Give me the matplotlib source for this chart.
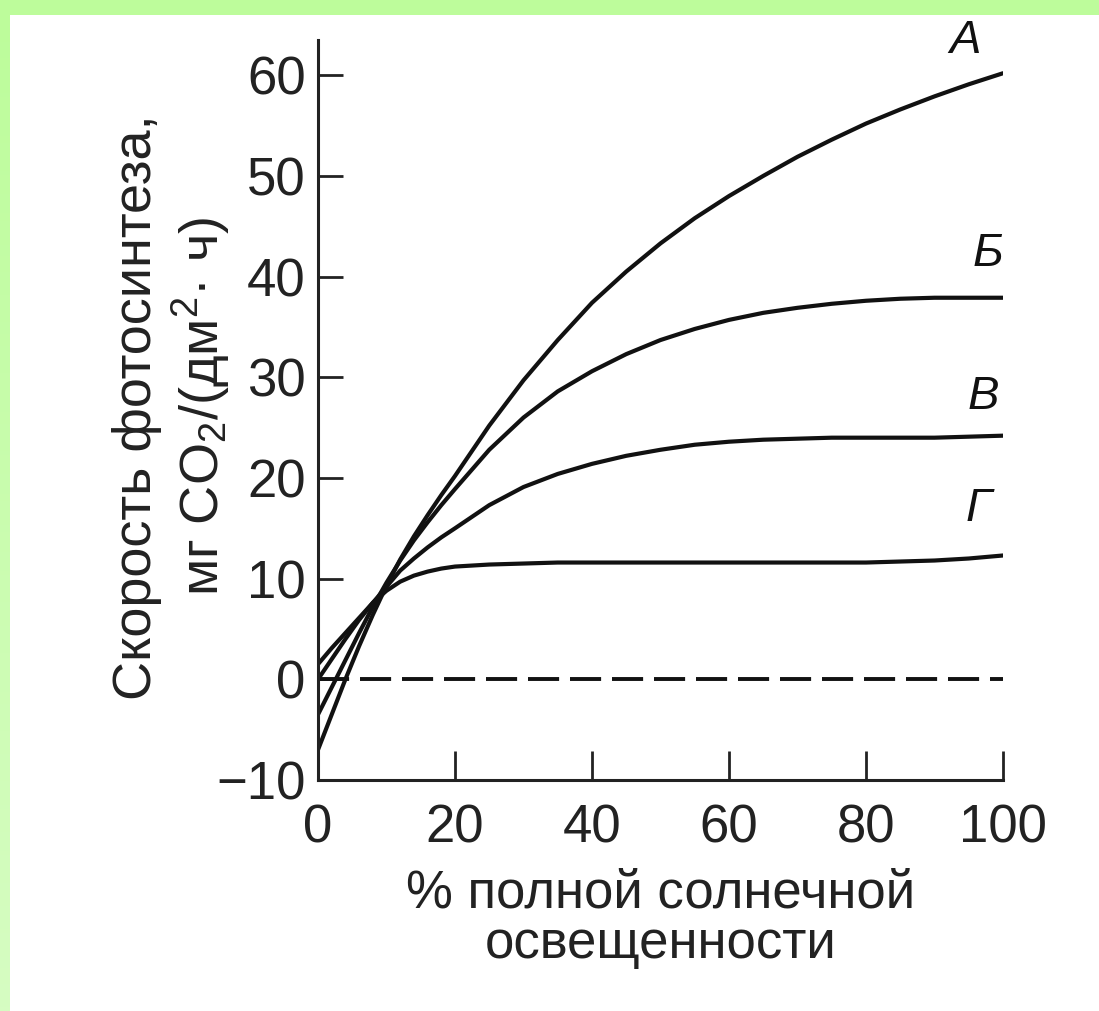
import numpy as np
import matplotlib
matplotlib.use("Agg")
import matplotlib.pyplot as plt
from matplotlib.patches import Rectangle

plt.rcParams['font.family'] = ['Liberation Sans', 'DejaVu Sans']
plt.rcParams['mathtext.fontset'] = 'custom'
plt.rcParams['mathtext.rm'] = 'Liberation Sans'
plt.rcParams['mathtext.it'] = 'Liberation Sans:italic'

# % of full sunlight
light = [0, 2, 4, 6, 8, 10, 12, 14, 16, 18, 20, 25, 30, 35, 40, 45, 50, 55, 60,
         65, 70, 75, 80, 85, 90, 95, 100]
# photosynthesis rate, mg CO2 / (dm2 * h)
curve_a = [-7, -3.5, 0, 3.3, 6.4, 9.3, 11.9, 14.2, 16.3, 18.3, 20.2, 25.2, 29.7, 33.7, 37.4,
           40.5, 43.3, 45.8, 48.0, 50.0, 51.9, 53.6, 55.2, 56.6, 57.9, 59.1, 60.2]
curve_b = [-3.5, -0.8, 1.9, 4.6, 7.2, 9.6, 11.8, 13.8, 15.6, 17.3, 18.9, 22.8, 26.0, 28.6, 30.6,
           32.3, 33.7, 34.8, 35.7, 36.4, 36.9, 37.3, 37.6, 37.8, 37.9, 37.9, 37.9]
curve_v = [0, 2.0, 4.0, 5.9, 7.6, 9.2, 10.8, 12.0, 13.1, 14.1, 15.0, 17.3, 19.1, 20.4, 21.4,
           22.2, 22.8, 23.3, 23.6, 23.8, 23.9, 24.0, 24.0, 24.0, 24.0, 24.1, 24.2]
curve_g = [1.5, 3.1, 4.6, 6.1, 7.6, 8.8, 9.7, 10.3, 10.7, 11.0, 11.2, 11.4, 11.5, 11.6, 11.6,
           11.6, 11.6, 11.6, 11.6, 11.6, 11.6, 11.6, 11.6, 11.7, 11.8, 12.0, 12.3]
curve_names = ['А', 'Б', 'В', 'Г']
name_pos = [(94.5, 63.4), (97.8, 42.2), (97.1, 28.0), (96.4, 16.9)]

xticks = [0, 20, 40, 60, 80, 100]
yticks = [-10, 0, 10, 20, 30, 40, 50, 60]

fig = plt.figure(figsize=(10.99, 10.11), dpi=100)
fig.patch.set_facecolor('white')

# green frame on top and left
fig.patches.append(Rectangle((0, 1 - 15 / 1011), 1, 15 / 1011, transform=fig.transFigure,
                             facecolor='#bdfc9b', edgecolor='none', zorder=0))
gax = fig.add_axes([0, 0, 10 / 1099, 1 - 15 / 1011])
grad = np.linspace(0, 1, 256).reshape(-1, 1)
gax.imshow(grad, aspect='auto', cmap=matplotlib.colors.LinearSegmentedColormap.from_list(
    'g', ['#bdfc9b', '#d6fcc2']), extent=[0, 1, 0, 1])
gax.axis('off')

ax = fig.add_axes([318 / 1099, 1 - 780 / 1011, 685 / 1099, 740 / 1011])

for ys in [curve_a, curve_b, curve_v, curve_g]:
    ax.plot(light, ys, color='#111111', lw=3, solid_capstyle='round', solid_joinstyle='round')

ax.axhline(0, xmin=0.0, xmax=1.0, color='#111111', lw=2.8, dashes=(8, 2.8))

for name, (px, py) in zip(curve_names, name_pos):
    ax.text(px, py, name, fontsize=34, style='italic', ha='center', va='center', color='#111111')

ax.set_xlim(0, 100)
ax.set_ylim(-10, 63.5)
ax.set_xticks(xticks)
ax.set_yticks(yticks)
ax.spines['top'].set_visible(False)
ax.spines['right'].set_visible(False)
for s in ['left', 'bottom']:
    ax.spines[s].set_linewidth(2.2)
    ax.spines[s].set_color('#222222')
ax.tick_params(axis='y', direction='in', length=18, width=2, pad=9, labelsize=38, colors='#222222')
ax.tick_params(axis='x', direction='in', length=21, width=2, pad=17, labelsize=38, colors='#222222')
ax.set_facecolor('none')

ax.set_xlabel('% полной солнечной\nосвещенности', fontsize=38, color='#222222',
              labelpad=11, linespacing=1.0)
fig.text(172 / 1099, 1 - 407 / 1011, 'Скорость фотосинтеза,\nмг CO$_2$/(дм$^2$· ч)',
         rotation=90, ha='center', va='center', fontsize=39, color='#222222',
         multialignment='center', linespacing=1.15)

fig.savefig('out.png', dpi=100, facecolor='white')
